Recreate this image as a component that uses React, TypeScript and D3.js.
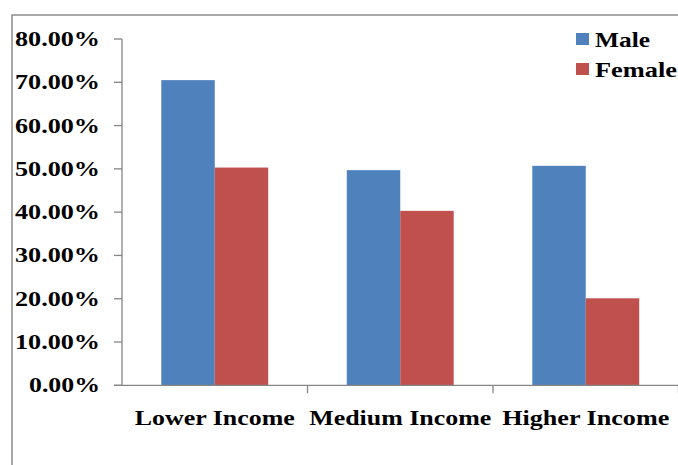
import React from "react";
import * as d3 from "d3";

const categories = ["Lower Income", "Medium Income", "Higher Income"];
const seriesNames = ["Male", "Female"];
const maleValues = [0.705, 0.497, 0.507];
const femaleValues = [0.503, 0.403, 0.201];
const yTicks = [0, 0.1, 0.2, 0.3, 0.4, 0.5, 0.6, 0.7, 0.8];
const colors = ["#4F81BD", "#C0504D"];

const W = 678;
const H = 465;
const FONT = "'Liberation Serif', 'Times New Roman', serif";

export default function App() {
  const x0 = d3.scaleBand<string>().domain(categories).range([122, 678.5]).paddingInner(0).paddingOuter(0);
  const x1 = d3.scaleBand<string>().domain(seriesNames).range([0, x0.bandwidth()]).paddingInner(0).paddingOuter(0.735);
  const y = d3.scaleLinear().domain([0, 0.8]).range([385.3, 39]);
  const fmt = d3.format(".2%");
  const series = [maleValues, femaleValues];

  const labelWidth = (t: string) => (t.length === 5 ? 71 : 85);
  const catWidths = [160, 182, 167];

  return (
    <svg width={W} height={H} style={{ position: "absolute", left: 0, top: 0, background: "#fff" }}>
      <rect x={12} y={15} width={W} height={H} fill="#fff" stroke="#8c8c8c" strokeWidth={1.5} />
      {/* bars */}
      {categories.map((c, ci) =>
        seriesNames.map((s, si) => (
          <rect
            key={c + s}
            x={(x0(c) as number) + (x1(s) as number)}
            y={y(series[si][ci])}
            width={x1.bandwidth()}
            height={y(0) - y(series[si][ci])}
            fill={colors[si]}
          />
        ))
      )}
      {/* y axis */}
      <line x1={122} x2={122} y1={y(0.8)} y2={y(0)} stroke="#868686" strokeWidth={1.3} />
      {yTicks.map((t) => (
        <g key={t}>
          <line x1={114} x2={122} y1={y(t)} y2={y(t)} stroke="#868686" strokeWidth={1.3} />
          <text
            x={100}
            y={y(t) + 7}
            textAnchor="end"
            fontFamily={FONT}
            fontWeight="bold"
            fontSize={20}
            fill="#000"
            textLength={labelWidth(fmt(t))}
            lengthAdjust="spacingAndGlyphs"
          >
            {fmt(t)}
          </text>
        </g>
      ))}
      {/* x axis */}
      <line x1={114} x2={678} y1={y(0)} y2={y(0)} stroke="#868686" strokeWidth={1.3} />
      {categories.map((c) => (
        <line
          key={"tk" + c}
          x1={(x0(c) as number) + x0.bandwidth()}
          x2={(x0(c) as number) + x0.bandwidth()}
          y1={y(0)}
          y2={y(0) + 8}
          stroke="#868686"
          strokeWidth={1.3}
        />
      ))}
      {categories.map((c, ci) => (
        <text
          key={"lb" + c}
          x={(x0(c) as number) + x0.bandwidth() / 2}
          y={425}
          textAnchor="middle"
          fontFamily={FONT}
          fontWeight="bold"
          fontSize={21}
          fill="#000"
          textLength={catWidths[ci]}
          lengthAdjust="spacingAndGlyphs"
        >
          {c}
        </text>
      ))}
      {/* legend */}
      {seriesNames.map((s, si) => (
        <g key={"lg" + s}>
          <rect x={576} y={33 + si * 30} width={13} height={12} fill={colors[si]} />
          <text
            x={595}
            y={47 + si * 30}
            fontFamily={FONT}
            fontWeight="bold"
            fontSize={21}
            fill="#000"
            textLength={si === 0 ? 55 : 82}
            lengthAdjust="spacingAndGlyphs"
          >
            {s}
          </text>
        </g>
      ))}
    </svg>
  );
}
